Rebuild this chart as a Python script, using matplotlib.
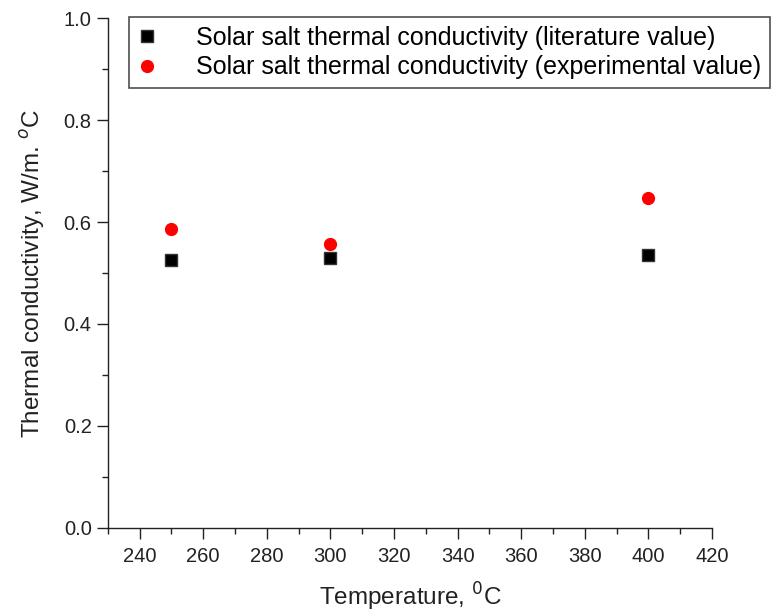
import matplotlib
matplotlib.use("Agg")
import matplotlib.pyplot as plt
from matplotlib.ticker import MultipleLocator

temps = [250, 300, 400]
lit_values = [0.526, 0.529, 0.535]
exp_values = [0.587, 0.556, 0.647]
lit_label = "Solar salt thermal conductivity (literature value)"
exp_label = "Solar salt thermal conductivity (experimental value)"

plt.rcParams['font.family'] = ['Liberation Sans', 'DejaVu Sans']

fig = plt.figure(figsize=(7.71, 6.13), dpi=100)
ax = fig.add_axes([0.1397, 0.1387, 0.9235 - 0.1397, 0.9706 - 0.1387])

ax.plot(temps, lit_values, linestyle='none', marker='s', markersize=8.5,
        color='black', markeredgecolor='#333333', label=lit_label)
ax.plot(temps, exp_values, linestyle='none', marker='o', markersize=8.5,
        color='red', markeredgecolor='red', label=exp_label)

ax.set_xlim(230, 420)
ax.set_ylim(0, 1.0)
ax.xaxis.set_minor_locator(MultipleLocator(10))
ax.yaxis.set_minor_locator(MultipleLocator(0.1))
ax.set_xticks(range(240, 421, 20))
ax.set_yticks([0.0, 0.2, 0.4, 0.6, 0.8, 1.0])
ax.set_yticklabels(['0.0', '0.2', '0.4', '0.6', '0.8', '1.0'])

for s in ['top', 'right']:
    ax.spines[s].set_visible(False)
for s in ['left', 'bottom']:
    ax.spines[s].set_linewidth(1.0)
    ax.spines[s].set_color('#222222')

ax.tick_params(which='major', direction='out', length=8, width=1, labelsize=14.5, colors='#222222')
ax.tick_params(which='minor', direction='out', length=4.5, width=1, colors='#222222')
ax.tick_params(axis='x', pad=6)

ax.set_xlabel("Temperature, $^{0}$C", fontsize=17.5, labelpad=10, color='#222222')
ax.set_ylabel("Thermal conductivity, W/m. $^{o}$C", fontsize=17.5, labelpad=12, color='#222222')

leg = fig.legend(loc='upper left', bbox_to_anchor=(129/771, 1 - 17/613), borderaxespad=0,
                 fontsize=18, frameon=True, fancybox=False, edgecolor='#222222',
                 handletextpad=1.65, borderpad=0.35, labelspacing=0.22, handlelength=0.7)
leg.get_frame().set_linewidth(1.2)

fig.savefig("out.png", dpi=100)
